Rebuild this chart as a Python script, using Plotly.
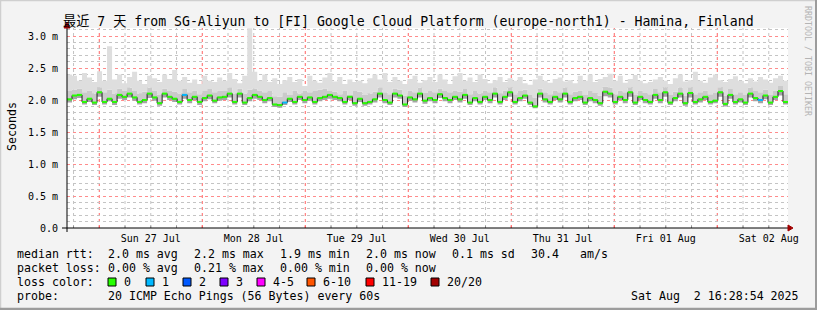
import pandas as pd
import plotly.graph_objects as go

# ---------------- data ----------------
start_time = "2025-07-26 16:28:54"
end_time = "2025-08-02 16:28:54"
step_minutes = 70

median_ms = [
    2.01, 2.07, 2.08, 1.97, 2.02, 1.96, 2.12, 1.97, 2.02, 1.97, 2.08, 2.05, 2.10, 2.04, 1.97,
    2.00, 2.10, 2.04, 1.95, 2.10, 2.05, 2.02, 1.97, 2.08, 2.00, 2.05, 1.97, 2.03, 2.07,
    1.99, 2.04, 2.05, 2.10, 1.97, 2.10, 1.96, 2.03, 2.08, 2.05, 2.00, 2.03, 1.93, 1.92, 1.96,
    2.02, 1.97, 2.05, 2.00, 2.04, 1.97, 2.03, 2.05, 2.08, 2.05, 2.03, 1.97, 2.05, 1.95,
    2.02, 1.95, 1.97, 2.01, 2.10, 2.00, 1.96, 2.10, 2.07, 1.93, 2.04, 2.01, 2.10, 1.99, 2.03,
    2.00, 2.09, 2.03, 2.00, 2.05, 2.01, 2.08, 1.96, 2.03, 1.97, 2.05, 2.00, 2.10, 1.97,
    2.05, 2.12, 1.97, 2.03, 2.07, 1.96, 1.90, 2.10, 2.01, 1.97, 2.05, 2.01, 2.10, 1.97, 2.03,
    2.05, 1.96, 2.03, 2.00, 1.95, 2.13, 2.10, 1.97, 2.05, 2.00, 2.12, 1.96, 2.05, 2.00,
    1.97, 2.08, 2.00, 2.12, 1.96, 2.03, 2.10, 1.95, 2.11, 1.97, 2.01, 2.05, 1.97, 1.99,
    2.12, 1.94, 2.08, 1.97, 2.01, 1.96, 2.10, 2.03, 2.00, 2.07, 1.96, 2.05, 2.14, 1.97,
]

smoke_low_ms = [
    1.96, 2.01, 2.03, 1.93, 1.97, 1.92, 2.05, 1.93, 1.98, 1.92, 2.02, 2.00, 2.04, 1.99, 1.93,
    1.95, 2.03, 1.99, 1.91, 2.04, 2.00, 1.97, 1.93, 2.02, 1.95, 2.00, 1.92, 1.98, 2.01,
    1.95, 1.99, 2.00, 2.04, 1.93, 2.04, 1.92, 1.98, 2.02, 2.00, 1.95, 1.98, 1.89, 1.88, 1.92,
    1.97, 1.93, 2.00, 1.95, 1.99, 1.93, 1.98, 2.00, 2.02, 2.00, 1.98, 1.93, 2.00, 1.91,
    1.97, 1.91, 1.93, 1.96, 2.04, 1.95, 1.92, 2.04, 2.02, 1.89, 1.99, 1.96, 2.04, 1.94, 1.98,
    1.95, 2.03, 1.98, 1.95, 2.00, 1.96, 2.02, 1.92, 1.98, 1.93, 2.00, 1.95, 2.04, 1.93,
    2.00, 2.05, 1.93, 1.98, 2.02, 1.92, 1.87, 2.04, 1.96, 1.93, 2.00, 1.96, 2.04, 1.93, 1.98,
    2.00, 1.92, 1.98, 1.95, 1.91, 2.06, 2.04, 1.93, 2.00, 1.95, 2.05, 1.92, 2.00, 1.95,
    1.93, 2.02, 1.95, 2.05, 1.92, 1.98, 2.04, 1.91, 2.04, 1.93, 1.96, 2.00, 1.93, 1.95,
    2.05, 1.90, 2.02, 1.93, 1.96, 1.92, 2.04, 1.98, 1.95, 2.01, 1.92, 2.00, 2.07, 1.93,
]

smoke_mid_ms = [
    2.14, 2.16, 2.18, 2.12, 2.15, 2.10, 2.20, 2.12, 2.16, 2.10, 2.18, 2.15, 2.19, 2.14, 2.10,
    2.13, 2.19, 2.15, 2.08, 2.18, 2.14, 2.13, 2.10, 2.17, 2.12, 2.15, 2.09, 2.14, 2.17,
    2.12, 2.15, 2.14, 2.19, 2.10, 2.18, 2.10, 2.16, 2.18, 2.15, 2.12, 2.14, 2.06, 2.05, 2.12,
    2.08, 2.15, 2.10, 2.15, 2.12, 2.14, 2.16, 2.18, 2.14, 2.13, 2.09, 2.15, 2.08, 2.14,
    2.13, 2.08, 2.10, 2.13, 2.19, 2.12, 2.09, 2.18, 2.16, 2.07, 2.15, 2.12, 2.19, 2.11, 2.14,
    2.12, 2.18, 2.14, 2.12, 2.15, 2.13, 2.17, 2.09, 2.14, 2.10, 2.15, 2.12, 2.19, 2.10,
    2.15, 2.20, 2.09, 2.14, 2.16, 2.08, 2.04, 2.18, 2.12, 2.09, 2.15, 2.12, 2.19, 2.09, 2.13,
    2.15, 2.08, 2.14, 2.11, 2.07, 2.21, 2.19, 2.09, 2.15, 2.12, 2.20, 2.08, 2.15, 2.11,
    2.09, 2.17, 2.12, 2.20, 2.08, 2.13, 2.19, 2.07, 2.20, 2.09, 2.12, 2.15, 2.09, 2.11,
    2.20, 2.07, 2.17, 2.09, 2.12, 2.08, 2.19, 2.14, 2.12, 2.16, 2.08, 2.15, 2.22, 2.09,
]

smoke_high_ms = [
    2.40, 2.38, 2.30, 2.42, 2.35, 2.28, 2.45, 2.30, 2.84, 2.32, 2.40, 2.26, 2.36, 2.44, 2.30,
    2.25, 2.38, 2.34, 2.28, 2.40, 2.33, 2.47, 2.30, 2.36, 2.27, 2.32, 2.25, 2.38, 2.30,
    2.28, 2.35, 2.30, 2.42, 2.33, 2.26, 2.38, 3.12, 2.44, 2.30, 2.40, 2.28, 2.34, 2.25, 2.31,
    2.36, 2.28, 2.33, 2.22, 2.38, 2.30, 2.27, 2.35, 2.42, 2.29, 2.36, 2.25, 2.32, 2.28,
    2.30, 2.26, 2.34, 2.40, 2.32, 2.42, 2.28, 2.36, 2.30, 2.25, 2.33, 2.38, 2.27, 2.31, 2.36,
    2.28, 2.40, 2.32, 2.25, 2.37, 2.42, 2.30, 2.35, 2.28, 2.40, 2.33, 2.26, 2.31, 2.36,
    2.28, 2.34, 2.30, 2.36, 2.26, 2.24, 2.32, 2.38, 2.30, 2.27, 2.33, 2.35, 2.29, 2.31, 2.26,
    2.38, 2.30, 2.40, 2.28, 2.33, 2.36, 2.41, 2.30, 2.38, 2.27, 2.33, 2.39, 2.30, 2.26,
    2.28, 2.32, 2.36, 2.30, 2.25, 2.34, 2.40, 2.29, 2.31, 2.44, 2.30, 2.27, 2.35, 2.40,
    2.31, 2.28, 2.33, 2.37, 2.30, 2.26, 2.34, 2.29, 2.36, 2.32, 2.27, 2.34, 2.38, 2.30,
]

loss1_steps = [23, 43, 138]  # steps where 1 of 20 pings was lost

y_tick_vals = [0.0, 0.5, 1.0, 1.5, 2.0, 2.5, 3.0]
y_tick_text = ["0.0", "0.5 m", "1.0 m", "1.5 m", "2.0 m", "2.5 m", "3.0 m"]

title_text = "最近 7 天 from SG-Aliyun to [FI] Google Cloud Platform (europe-north1) - Hamina, Finland"
rtt_stats = ["2.0 ms avg", "2.2 ms max", "1.9 ms min", "2.0 ms now", "0.1 ms sd", "30.4", "am/s"]
loss_stats = ["0.00 % avg", "0.21 % max", "0.00 % min", "0.00 % now"]
loss_labels = ["0", "1", "2", "3", "4-5", "6-10", "11-19", "20/20"]
loss_colors = ["#26ff00", "#00b8ff", "#0059ff", "#7e00ff", "#ff00ff", "#ff5500", "#ff0000", "#a10000"]
probe_text = "20 ICMP Echo Pings (56 Bytes) every 60s"
stamp_text = "Sat Aug  2 16:28:54 2025"

# ---------------- layout geometry ----------------
W, H = 817, 310
L, R, T, B = 67, 29, 28, 82
PW, PH = W - L - R, H - T - B
MONO = "DejaVu Sans Mono"
MINOR_GRID = "#c4c4c4"
MAJOR_GRID = "#ff8c8c"
VMAJOR_GRID = "#ff6464"
GRID_DASH = "dot"
DAY_MS = 86400000


def px(x):
    return (x - L) / PW


def py(y):
    return (H - B - y) / PH


n = len(median_ms)
edges = list(pd.date_range(start_time, periods=n + 1, freq=f"{step_minutes}min"))


def step(vals):
    return edges, list(vals) + [vals[-1]]


fig = go.Figure()

# smoke bands (step shaped)
ex, ey = step(smoke_low_ms)
fig.add_trace(go.Scatter(x=ex, y=ey, mode="lines", line=dict(width=0, shape="hv"),
                         hoverinfo="skip", showlegend=False))
for vals, col in [(median_ms, "#a4a4a4"), (smoke_mid_ms, "#cacaca"), (smoke_high_ms, "#dedede")]:
    ex, ey = step(vals)
    fig.add_trace(go.Scatter(x=ex, y=ey, mode="lines", line=dict(width=0, shape="hv"),
                             fill="tonexty", fillcolor=col, hoverinfo="skip", showlegend=False))

# median line
ex, ey = step(median_ms)
fig.add_trace(go.Scatter(x=ex, y=ey, mode="lines", line=dict(width=1, color="#202020", shape="hv"),
                         hoverinfo="skip", showlegend=False))

# loss-coloured median segments
for lossval, col in [(0, loss_colors[0]), (1, loss_colors[1])]:
    gx, gy = [], []
    for i, v in enumerate(median_ms):
        is1 = i in loss1_steps
        if (lossval == 1) != is1:
            continue
        gx += [edges[i], edges[i + 1], None]
        gy += [v, v, None]
    fig.add_trace(go.Scatter(x=gx, y=gy, mode="lines", line=dict(width=2, color=col),
                             hoverinfo="skip", showlegend=False, connectgaps=False))

annotations = []


def text(x, y, s, size=11.6, anchor="left", color="#000000", angle=0, yanchor="middle"):
    annotations.append(dict(x=px(x), y=py(y), xref="paper", yref="paper", text=s,
                            showarrow=False, xanchor=anchor, yanchor=yanchor, textangle=angle,
                            font=dict(family=MONO, size=size, color=color), borderpad=0))


text(408.5, 21, title_text, size=13.2, anchor="center")
annotations[-1]["font"]["family"] = "DejaVu Sans Mono, Noto Sans CJK SC"
text(12, 127, "Seconds", size=11.6, anchor="center", angle=-90)
text(808, 5, "RRDTOOL / TOBI OETIKER", size=8.3, anchor="center", color="#b4b4b4", angle=90,
     yanchor="top")

row_y = [254, 268, 282, 296]
stat_x = [107, 193, 279, 365, 451, 530, 579]
text(16, row_y[0], "median rtt:")
for s, x in zip(rtt_stats, stat_x):
    text(x, row_y[0], s)
text(16, row_y[1], "packet loss:")
for s, x in zip(loss_stats, stat_x):
    text(x, row_y[1], s)
text(16, row_y[2], "loss color:")
box_x = [108, 146, 183, 220, 257, 307, 366, 431]
shapes = []

# vertical time grid: grey every 6 h, red at midnight (drawn below the data)
grid_times = pd.date_range("2025-07-26 18:00:00", end_time, freq="6h")
for t in grid_times:
    major = t.hour == 0
    shapes.append(dict(type="line", layer="below", xref="x", yref="paper", x0=t, x1=t, y0=0, y1=1,
                       line=dict(color=VMAJOR_GRID if major else MINOR_GRID, width=1, dash=GRID_DASH)))
    shapes.append(dict(type="line", layer="above", xref="x", yref="paper", x0=t, x1=t, y0=0, y1=0.012,
                       line=dict(color="#ff6060" if major else "#909090", width=1)))

for bx, lab, col in zip(box_x, loss_labels, loss_colors):
    shapes.append(dict(type="rect", xref="paper", yref="paper", x0=px(bx), x1=px(bx + 8),
                       y0=py(286), y1=py(278), fillcolor=col, line=dict(color="#000000", width=1)))
    text(bx + 14.5, row_y[2], lab)
text(16, row_y[3], "probe:")
text(107, row_y[3], probe_text)
text(800, row_y[3], stamp_text, anchor="right")

# axis arrows
shapes.append(dict(type="line", xref="paper", yref="paper", x0=px(62), x1=px(790),
                   y0=py(228), y1=py(228), line=dict(color="#000000", width=1)))
shapes.append(dict(type="line", xref="paper", yref="paper", x0=px(67), x1=px(67),
                   y0=py(232), y1=py(24), line=dict(color="#000000", width=1)))
shapes.append(dict(type="path", xref="paper", yref="paper",
                   path=f"M {px(788)},{py(225)} L {px(793)},{py(228)} L {px(788)},{py(231)} Z",
                   fillcolor="#a00000", line=dict(color="#a00000", width=1)))
shapes.append(dict(type="path", xref="paper", yref="paper",
                   path=f"M {px(64)},{py(28)} L {px(67)},{py(22)} L {px(70)},{py(28)} Z",
                   fillcolor="#a00000", line=dict(color="#a00000", width=1)))
# image frame
shapes.append(dict(type="line", xref="paper", yref="paper", x0=px(0), x1=px(W), y0=py(0.5), y1=py(0.5),
                   line=dict(color="#cfcfcf", width=1.5)))
shapes.append(dict(type="line", xref="paper", yref="paper", x0=px(0.5), x1=px(0.5), y0=py(0), y1=py(H),
                   line=dict(color="#cfcfcf", width=1.5)))
shapes.append(dict(type="line", xref="paper", yref="paper", x0=px(0), x1=px(W), y0=py(H - 1), y1=py(H - 1),
                   line=dict(color="#9c9c9c", width=2.5)))
shapes.append(dict(type="line", xref="paper", yref="paper", x0=px(W - 1), x1=px(W - 1), y0=py(0), y1=py(H),
                   line=dict(color="#9c9c9c", width=2)))

fig.update_layout(
    width=W, height=H, autosize=False,
    margin=dict(l=L, r=R, t=T, b=B, pad=0),
    paper_bgcolor="#f3f3f3", plot_bgcolor="#ffffff",
    showlegend=False,
    annotations=annotations, shapes=shapes,
    # one label per day, at noon
    xaxis=dict(
        type="date", range=[start_time, end_time], fixedrange=True,
        tickmode="linear", tick0="2025-07-26 12:00:00", dtick=DAY_MS,
        tickformat="%a %d %b", tickfont=dict(family=MONO, size=10, color="#000000"),
        ticklabelstandoff=3, ticks="", showgrid=False,
        showline=False, zeroline=False,
    ),
    yaxis=dict(
        range=[0, 3.125], fixedrange=True,
        tickmode="array", tickvals=y_tick_vals, ticktext=y_tick_text,
        tickfont=dict(family=MONO, size=10, color="#000000"), ticklabelstandoff=8,
        showgrid=True, gridcolor=MAJOR_GRID, griddash=GRID_DASH, gridwidth=1,
        minor=dict(tickmode="linear", tick0=0, dtick=0.1, showgrid=True,
                   gridcolor=MINOR_GRID, griddash=GRID_DASH, gridwidth=1),
        showline=False, zeroline=False, ticks="",
    ),
)

fig.write_html("out.html")
